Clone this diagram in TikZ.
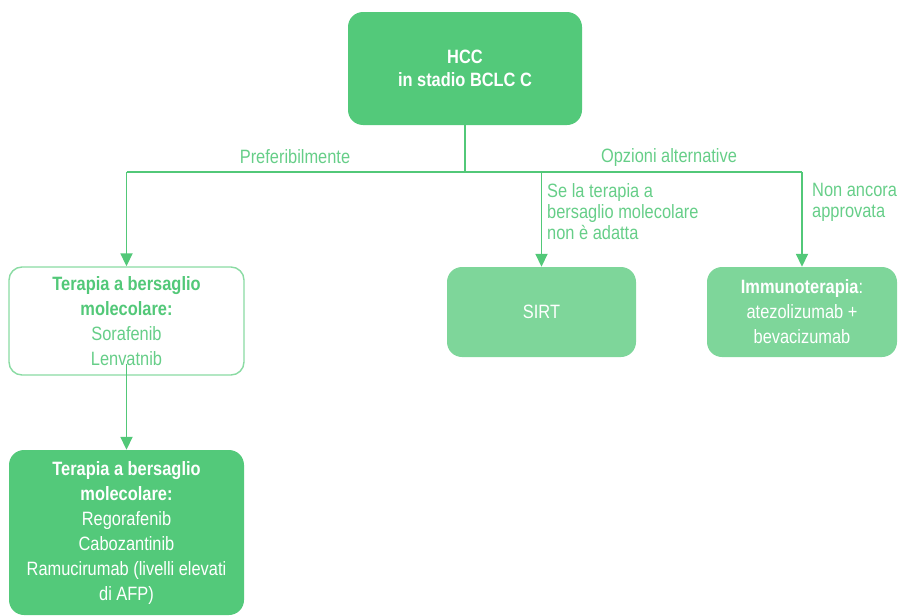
\documentclass[tikz,border=0pt]{standalone}
\usepackage{fontspec}
\setmainfont{Liberation Sans}[FakeStretch=0.85]
\usetikzlibrary{arrows.meta}
\definecolor{gdark}{HTML}{53C97A}
\definecolor{glight}{HTML}{7ED69A}
\definecolor{gline}{HTML}{52C878}
\definecolor{gtext}{HTML}{66CE88}
\definecolor{gborder}{HTML}{8ADBA3}

\begin{document}
\begin{tikzpicture}[x=1pt,y=-1pt,
  every node/.style={font=\fontsize{19.3}{25}\selectfont},
  box/.style={rounded corners=15pt, inner sep=0pt, align=center},
  darkbox/.style={box, fill=gdark, text=white},
  lightbox/.style={box, fill=glight, text=white},
  openbox/.style={box, draw=gborder, line width=1.4pt, fill=white, text=gtext},
  lbl/.style={text=gtext, inner sep=0pt},
  sidelbl/.style={lbl, align=left, anchor=north west, font=\fontsize{19.3}{21}\selectfont},
  conn/.style={draw=gline, line width=1.8pt},
  arr/.style={conn, -{Triangle[length=13pt,width=12pt]}}
]
\useasboundingbox (0,0) rectangle (898,616);

% boxes
\node[darkbox, minimum width=234pt, minimum height=113pt, font=\bfseries\fontsize{19.3}{23}\selectfont]
  (hcc) at (465,68.5) {HCC\\in stadio BCLC C};
\node[openbox, minimum width=235pt, minimum height=108pt, rounded corners=13pt]
  (tbm) at (126.5,321) {\textcolor{gline}{\textbf{Terapia a bersaglio}}\\\textcolor{gline}{\textbf{molecolare:}}\\Sorafenib\\Lenvatnib};
\node[darkbox, minimum width=235pt, minimum height=165pt]
  (tbm2) at (126.5,532.5) {\textbf{Terapia a bersaglio}\\\textbf{molecolare:}\\Regorafenib\\Cabozantinib\\Ramucirumab (livelli elevati\\di AFP)};
\node[lightbox, minimum width=189pt, minimum height=90pt]
  (sirt) at (541.5,312) {SIRT};
\node[lightbox, minimum width=190pt, minimum height=90pt]
  (immuno) at (802,312) {\textbf{Immunoterapia}:\\atezolizumab +\\bevacizumab};

% branching lines
\coordinate (split) at (465,172);
\coordinate (leftend) at (126.5,172);
\coordinate (rightend) at (802,172);
\draw[conn] (hcc.south) -- (split);
\draw[conn] (leftend) -- (rightend);
\draw[arr] (leftend) -- (tbm.north);
\draw[arr] (sirt.north |- split) -- (sirt.north);
\draw[arr] (rightend) -- (immuno.north);
\draw[arr] ([yshift=12pt]tbm.south) -- (tbm2.north);

% labels
\node[lbl] (pref) at (295,157) {Preferibilmente};
\node[lbl] (alt) at (669,158) {Opzioni alternative};
\node[sidelbl] (sirtlbl) at (547,183) {Se la terapia a\\bersaglio molecolare\\non è adatta};
\node[sidelbl] (immlbl) at (812,183) {Non ancora\\approvata};
\end{tikzpicture}
\end{document}
